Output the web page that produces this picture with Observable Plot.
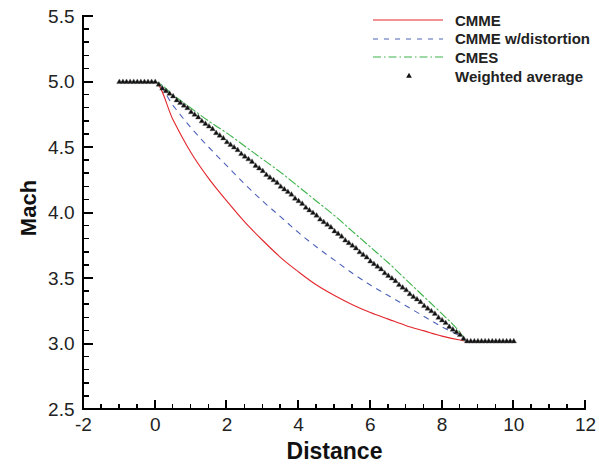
<!DOCTYPE html>
<html>
<head>
<meta charset="utf-8">
<script src="https://cdn.jsdelivr.net/npm/d3@7"></script>
<script src="https://cdn.jsdelivr.net/npm/@observablehq/plot@0.6"></script>
<style>
  body { margin: 0; background: #fff; }
  #wrap { position: relative; width: 599px; height: 464px; font-family: "Liberation Sans", Arial, sans-serif; }
  .leg { position: absolute; left: 373px; height: 18px; display: flex; align-items: center; }
  .leg span { margin-left: 12px; font-weight: bold; font-size: 15px; color: #222; white-space: nowrap; }
</style>
</head>
<body>
<div id="wrap"></div>
<script>
// Axis ticks
const xTicks = [-2, 0, 2, 4, 6, 8, 10, 12];
const yTicks = [2.5, 3.0, 3.5, 4.0, 4.5, 5.0, 5.5];
const xMinorTicks = d3.range(-4, 25).map(d => d / 2);
const yMinorTicks = d3.range(25, 56).map(d => d / 10);

// Series: line curves
const lineDist = [-1, 0, 0.5, 1.0, 1.5, 2.0, 2.5, 3.0, 3.5, 4.0, 4.5, 5.0, 5.5, 6.0, 6.5, 7.0, 7.5, 8.0, 8.5, 8.7, 10];
const cmme     = [5.00, 5.00, 4.71, 4.46, 4.26, 4.09, 3.93, 3.79, 3.66, 3.55, 3.45, 3.37, 3.30, 3.24, 3.19, 3.14, 3.10, 3.06, 3.03, 3.02, 3.02];
const cmmeDist = [5.00, 5.00, 4.82, 4.65, 4.50, 4.36, 4.22, 4.09, 3.97, 3.85, 3.74, 3.64, 3.54, 3.45, 3.37, 3.29, 3.21, 3.13, 3.06, 3.02, 3.02];
const cmes     = [5.00, 5.00, 4.90, 4.80, 4.70, 4.61, 4.51, 4.41, 4.31, 4.20, 4.09, 3.98, 3.86, 3.74, 3.62, 3.49, 3.36, 3.23, 3.09, 3.02, 3.02];

// Series: weighted average markers
const waDist = [-1.0,-0.9,-0.8,-0.7,-0.6,-0.5,-0.4,-0.3,-0.2,-0.1,0.0,
  0.1,0.2,0.3,0.4,0.5,0.6,0.7,0.8,0.9,1.0,1.1,1.2,1.3,1.4,1.5,1.6,1.7,1.8,1.9,2.0,
  2.1,2.2,2.3,2.4,2.5,2.6,2.7,2.8,2.9,3.0,3.1,3.2,3.3,3.4,3.5,3.6,3.7,3.8,3.9,4.0,
  4.1,4.2,4.3,4.4,4.5,4.6,4.7,4.8,4.9,5.0,5.1,5.2,5.3,5.4,5.5,5.6,5.7,5.8,5.9,6.0,
  6.1,6.2,6.3,6.4,6.5,6.6,6.7,6.8,6.9,7.0,7.1,7.2,7.3,7.4,7.5,7.6,7.7,7.8,7.9,8.0,
  8.1,8.2,8.3,8.4,8.5,8.6,8.7,8.8,8.9,9.0,9.1,9.2,9.3,9.4,9.5,9.6,9.7,9.8,9.9,10.0];
const waMach = [5.00,5.00,5.00,5.00,5.00,5.00,5.00,5.00,5.00,5.00,5.00,
  4.98,4.95,4.93,4.91,4.89,4.86,4.84,4.82,4.80,4.77,4.75,4.73,4.70,4.68,4.66,4.64,4.61,4.59,4.57,4.54,
  4.52,4.50,4.48,4.45,4.43,4.41,4.39,4.36,4.34,4.32,4.29,4.27,4.25,4.23,4.20,4.18,4.16,4.14,4.11,4.09,
  4.07,4.04,4.02,4.00,3.98,3.95,3.93,3.91,3.89,3.86,3.84,3.82,3.79,3.77,3.75,3.73,3.70,3.68,3.66,3.63,
  3.61,3.59,3.57,3.54,3.52,3.50,3.48,3.45,3.43,3.41,3.38,3.36,3.34,3.32,3.29,3.27,3.25,3.23,3.20,3.18,
  3.16,3.13,3.11,3.09,3.07,3.04,3.02,3.02,3.02,3.02,3.02,3.02,3.02,3.02,3.02,3.02,3.02,3.02,3.02,3.02];

const seriesNames = ["CMME", "CMME w/distortion", "CMES", "Weighted average"];
const seriesColors = ["#e3262c", "#4d62b8", "#3db34a", "#111111"];
const seriesDash = [null, "5,6", "8,3,1.5,3", null];

const curves = [cmme, cmmeDist, cmes];
const lineData = curves.flatMap((vals, i) => vals.map((m, j) => ({series: seriesNames[i], x: lineDist[j], y: m})));
const waData = waDist.map((x, i) => ({x, y: waMach[i]}));

const font = "'Liberation Sans', Arial, sans-serif";

const chart = Plot.plot({
  width: 599,
  height: 464,
  marginLeft: 83,
  marginRight: 14,
  marginTop: 16,
  marginBottom: 55,
  style: {fontFamily: font, background: "white", color: "#222"},
  x: {domain: [xTicks[0], xTicks[xTicks.length - 1]]},
  y: {domain: [yTicks[0], yTicks[yTicks.length - 1]]},
  marks: [
    Plot.axisY({ticks: yTicks, tickSize: 0, tickPadding: 9, tickFormat: d3.format(".1f"), label: null, fontSize: 19}),
    Plot.axisX({ticks: xTicks, tickSize: 0, tickPadding: 8, tickFormat: d => String(d), label: null, fontSize: 19}),
    ...[0, 1, 2].map(i => Plot.line(lineData.filter(d => d.series === seriesNames[i]), {
      x: "x", y: "y", stroke: seriesColors[i], strokeWidth: 1.1,
      strokeDasharray: seriesDash[i], curve: "monotone-x"
    })),
    Plot.dot(waData, {x: "x", y: "y", symbol: "triangle", r: 2.0, fill: seriesColors[3], stroke: "#555", strokeWidth: 0.4}),
    Plot.text(["Distance"], {frameAnchor: "bottom", lineAnchor: "middle", textAnchor: "middle", dy: 42, text: d => d, fontSize: 23, fontWeight: "bold", fill: "#111"}),
    Plot.text(["Mach"], {frameAnchor: "left", lineAnchor: "middle", textAnchor: "middle", dx: -55, dy: -5, rotate: -90, text: d => d, fontSize: 22, fontWeight: "bold", fill: "#111"})
  ]
});

// Axis lines and inward ticks, positioned with the plot's own scales
const sx = chart.scale("x"), sy = chart.scale("y");
const x0 = sx.apply(xTicks[0]), x1 = sx.apply(xTicks[xTicks.length - 1]);
const y0 = sy.apply(yTicks[0]), y1 = sy.apply(yTicks[yTicks.length - 1]);
const ns = "http://www.w3.org/2000/svg";
const tg = document.createElementNS(ns, "g");
tg.setAttribute("shape-rendering", "crispEdges");
chart.appendChild(tg);
function seg(ax, ay, bx, by, w) {
  const l = document.createElementNS(ns, "line");
  l.setAttribute("x1", ax); l.setAttribute("y1", ay);
  l.setAttribute("x2", bx); l.setAttribute("y2", by);
  l.setAttribute("stroke", "#000");
  l.setAttribute("stroke-width", w);
  tg.appendChild(l);
}
yMinorTicks.forEach(v => seg(x0, sy.apply(v), x0 + 6, sy.apply(v), 1.5));
yTicks.forEach(v => seg(x0, sy.apply(v), x0 + 10, sy.apply(v), 2));
xMinorTicks.forEach(v => seg(sx.apply(v), y0, sx.apply(v), y0 - 5.5, 1.5));
xTicks.forEach(v => seg(sx.apply(v), y0, sx.apply(v), y0 - 9.5, 2));
seg(x0, y1 - 1, x0, y0 + 1.25, 2.5);
seg(x0 - 1.25, y0, x1 + 1, y0, 2.5);

const wrap = document.getElementById("wrap");
wrap.appendChild(chart);

// Legend overlay
const rowTops = [11, 29.5, 48, 67];
seriesNames.forEach((name, i) => {
  const row = document.createElement("div");
  row.className = "leg";
  row.style.top = rowTops[i] + "px";
  const svg = document.createElementNS(ns, "svg");
  svg.setAttribute("width", 70);
  svg.setAttribute("height", 18);
  if (i < 3) {
    const ln = document.createElementNS(ns, "line");
    ln.setAttribute("x1", 0); ln.setAttribute("x2", 70);
    ln.setAttribute("y1", 9); ln.setAttribute("y2", 9);
    ln.setAttribute("stroke", seriesColors[i]);
    ln.setAttribute("stroke-width", 1.1);
    if (seriesDash[i]) ln.setAttribute("stroke-dasharray", seriesDash[i]);
    svg.appendChild(ln);
  } else {
    const tri = document.createElementNS(ns, "path");
    tri.setAttribute("d", d3.symbol(d3.symbolTriangle, 14)());
    tri.setAttribute("transform", "translate(36,9)");
    tri.setAttribute("fill", seriesColors[3]);
    svg.appendChild(tri);
  }
  row.appendChild(svg);
  const lab = document.createElement("span");
  lab.textContent = name;
  row.appendChild(lab);
  wrap.appendChild(row);
});
</script>
</body>
</html>
